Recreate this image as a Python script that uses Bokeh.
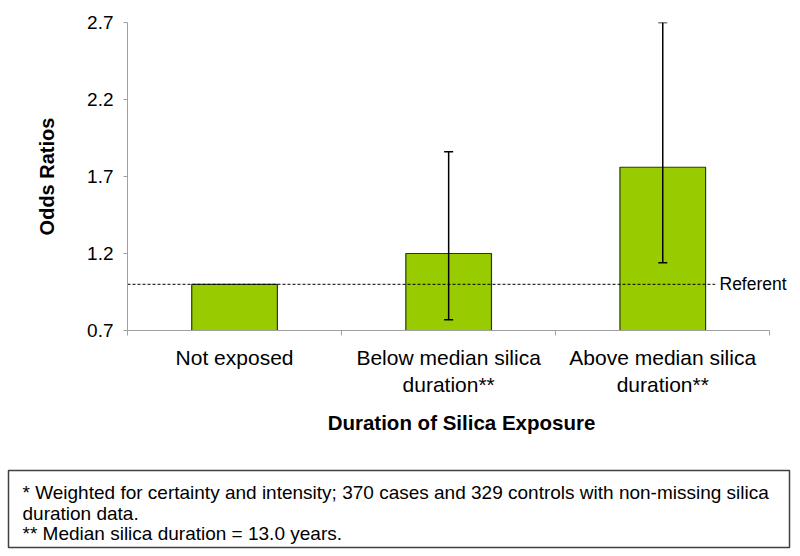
from bokeh.plotting import figure
from bokeh.models import (Range1d, FixedTicker, LinearAxis, Whisker, TeeHead,
                          ColumnDataSource, Label)
from bokeh.layouts import column
from bokeh.embed import file_html
from bokeh.resources import INLINE

# ---- data ----
categories = ["Not exposed", "Below median silica\nduration**", "Above median silica\nduration**"]
odds_ratios = [1.0, 1.20, 1.76]
ci_lower = [None, 0.77, 1.14]
ci_upper = [None, 1.86, 2.70]
y_ticks = [0.7, 1.2, 1.7, 2.2, 2.7]
referent_value = 1.0
referent_text = "Referent"
x_title = "Duration of Silica Exposure"
y_title = "Odds Ratios"
footnotes = [
    "* Weighted for certainty and intensity; 370 cases and 329 controls with non-missing silica",
    "duration data.",
    "** Median silica duration = 13.0 years.",
]

FONT = "Liberation Sans"
GRAY = "#A0A0A0"

n = len(categories)
xs = [i + 0.5 for i in range(n)]

p = figure(width=800, height=462, output_backend="svg", toolbar_location=None,
           x_range=Range1d(0, 3.12), y_range=Range1d(y_ticks[0], y_ticks[-1]),
           x_axis_type=None, min_border_left=127, min_border_right=5,
           min_border_top=22, min_border_bottom=132)
p.frame_align = False
p.outline_line_color = None
p.xgrid.visible = False
p.ygrid.visible = False

src = ColumnDataSource(dict(x=xs, top=odds_ratios))
p.vbar(x="x", top="top", bottom=y_ticks[0], width=0.4, source=src,
       fill_color="#99CC00", line_color="#2A3A05", line_width=1.2)

# referent line
p.line(x=[0, 2.745], y=[referent_value, referent_value], line_color="#000000",
       line_width=1, line_dash="3 2")
p.add_layout(Label(x=2.765, y=referent_value, text=referent_text, text_baseline="middle",
                   text_font=FONT, text_font_size="17.5px", text_color="#000000"))

# error bars
ex = [x for x, lo in zip(xs, ci_lower) if lo is not None]
lo = [v for v in ci_lower if v is not None]
up = [v for v in ci_upper if v is not None]
wsrc = ColumnDataSource(dict(base=ex, lower=lo, upper=up))
w = Whisker(base="base", lower="lower", upper="upper", source=wsrc,
            line_color="#000000", line_width=1.5, level="annotation",
            upper_head=TeeHead(size=9, line_color="#000000", line_width=1.5),
            lower_head=TeeHead(size=9, line_color="#000000", line_width=1.5))
p.add_layout(w)

# y axis
yax = p.yaxis[0]
yax.ticker = FixedTicker(ticks=y_ticks)
yax.major_label_overrides = {t: f"{t:.1f}" for t in y_ticks}
yax.axis_line_color = GRAY
yax.major_tick_line_color = GRAY
yax.major_tick_out = 4
yax.major_tick_in = 0
yax.minor_tick_line_color = None
yax.major_label_text_font = FONT
yax.major_label_text_font_size = "19px"
yax.major_label_text_color = "#000000"
yax.major_label_standoff = 10
yax.axis_label = y_title
yax.axis_label_text_font = FONT
yax.axis_label_text_font_style = "bold"
yax.axis_label_text_font_size = "20px"
yax.axis_label_text_color = "#000000"
yax.axis_label_standoff = 26

# x axis
xax = LinearAxis(ticker=FixedTicker(ticks=xs, minor_ticks=list(range(n + 1))),
                 bounds=(0, n))
xax.major_label_overrides = {x: c for x, c in zip(xs, categories)}
xax.axis_line_color = GRAY
xax.major_tick_line_color = None
xax.minor_tick_line_color = GRAY
xax.minor_tick_out = 5
xax.minor_tick_in = 0
xax.major_label_text_font = FONT
xax.major_label_text_font_size = "21px"
xax.major_label_text_color = "#000000"
xax.major_label_standoff = 9
xax.axis_label = x_title
xax.axis_label_text_font = FONT
xax.axis_label_text_font_style = "bold"
xax.axis_label_text_font_size = "20.5px"
xax.axis_label_text_color = "#000000"
xax.axis_label_standoff = 12
p.add_layout(xax, "below")

# footnote box
fw, fh = 781, 77
foot = figure(width=800, height=92, output_backend="svg", toolbar_location=None,
              x_range=Range1d(0, fw), y_range=Range1d(0, fh),
              x_axis_type=None, y_axis_type=None,
              min_border_left=8, min_border_right=11, min_border_top=8, min_border_bottom=7)
foot.frame_align = False
foot.xgrid.visible = False
foot.ygrid.visible = False
foot.outline_line_color = "#404040"
foot.outline_line_width = 1.5
for txt, yy in zip(footnotes, [55, 34.5, 14]):
    foot.add_layout(Label(x=14, y=yy, text=txt, text_font=FONT, text_font_size="19px",
                          text_color="#000000", text_baseline="alphabetic"))

layout = column(p, foot, spacing=0)
open("out.html", "w").write(file_html(layout, INLINE))
